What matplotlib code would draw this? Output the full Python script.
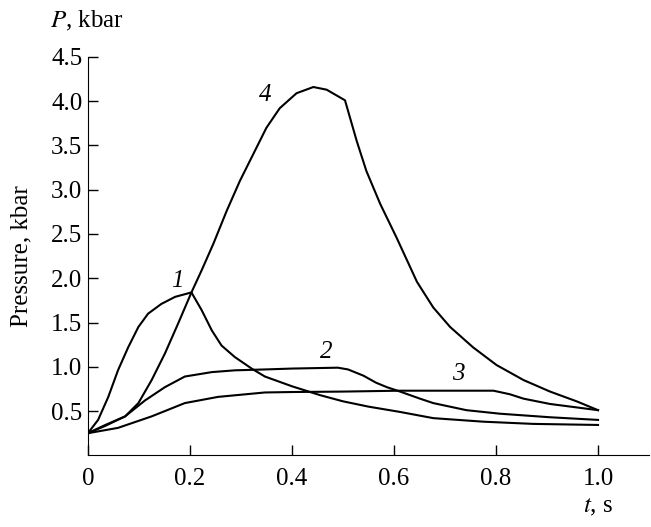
import matplotlib
matplotlib.use("Agg")
import matplotlib.pyplot as plt

plt.rcParams["font.family"] = ["Liberation Serif", "DejaVu Serif"]
plt.rcParams["mathtext.fontset"] = "stix"

# curve 1
t1 = [0, 0.02, 0.04, 0.059, 0.079, 0.099, 0.118, 0.144, 0.171, 0.203,
      0.223, 0.243, 0.262, 0.288, 0.321, 0.347, 0.4, 0.455, 0.5, 0.55,
      0.612, 0.677, 0.775, 0.873, 1.0]
p1 = [0.25, 0.40, 0.66, 0.96, 1.22, 1.45, 1.60, 1.71, 1.79, 1.84,
      1.64, 1.41, 1.24, 1.11, 0.98, 0.89, 0.78, 0.68, 0.61, 0.55,
      0.49, 0.42, 0.38, 0.355, 0.343]

# curve 2
t2 = [0, 0.033, 0.073, 0.112, 0.151, 0.19, 0.243, 0.288, 0.347, 0.4, 0.49,
      0.51, 0.54, 0.565, 0.586, 0.612, 0.651, 0.677, 0.742, 0.808, 0.906, 1.0]
p2 = [0.25, 0.33, 0.44, 0.62, 0.77, 0.89, 0.94, 0.96, 0.97, 0.98, 0.99,
      0.97, 0.90, 0.82, 0.77, 0.72, 0.64, 0.59, 0.51, 0.47, 0.43, 0.40]

# curve 3
t3 = [0, 0.059, 0.125, 0.19, 0.255, 0.347, 0.4, 0.5, 0.612, 0.795, 0.827,
      0.854, 0.906, 1.0]
p3 = [0.25, 0.31, 0.44, 0.59, 0.66, 0.71, 0.715, 0.72, 0.73, 0.73, 0.69,
      0.64, 0.58, 0.51]

# curve 4
t4 = [0, 0.033, 0.073, 0.099, 0.125, 0.151, 0.177, 0.203, 0.223, 0.246,
      0.272, 0.298, 0.324, 0.350, 0.376, 0.409, 0.442, 0.468, 0.504, 0.527,
      0.546, 0.573, 0.605, 0.645, 0.677, 0.71, 0.755, 0.801, 0.854, 0.906,
      0.958, 1.0]
p4 = [0.25, 0.34, 0.44, 0.59, 0.85, 1.15, 1.49, 1.84, 2.09, 2.39,
      2.76, 3.10, 3.40, 3.70, 3.92, 4.09, 4.16, 4.13, 4.01, 3.55,
      3.21, 2.84, 2.46, 1.96, 1.67, 1.45, 1.22, 1.02, 0.85, 0.72,
      0.61, 0.51]

curve_labels = ["1", "2", "3", "4"]
label_pos = [(0.176, 1.97), (0.468, 1.17), (0.726, 0.92), (0.347, 4.07)]

xticks = [0, 0.2, 0.4, 0.6, 0.8, 1.0]
xticklabels = ["0", "0.2", "0.4", "0.6", "0.8", "1.0"]
yticks = [0.5, 1.0, 1.5, 2.0, 2.5, 3.0, 3.5, 4.0, 4.5]

fig = plt.figure(figsize=(6.51, 5.27), dpi=100)
ax = fig.add_axes([0.135, 0.136, 0.862, 0.756])

for t, p in [(t1, p1), (t2, p2), (t3, p3), (t4, p4)]:
    ax.plot(t, p, color="black", lw=1.5, solid_joinstyle="round")

for lab, (x, y) in zip(curve_labels, label_pos):
    ax.text(x, y, lab, fontsize=18, style="italic", ha="center", va="center")

ax.set_xlim(0, 1.1)
ax.set_ylim(0, 4.5)
ax.set_xticks(xticks)
ax.set_xticklabels(xticklabels)
ax.set_yticks(yticks)
ax.set_yticklabels([f"{v:.1f}" for v in yticks])
ax.tick_params(direction="in", length=7, width=1, labelsize=18)
ax.tick_params(axis="x", pad=9)
ax.tick_params(axis="y", pad=4)
ax.spines["top"].set_visible(False)
ax.spines["right"].set_visible(False)

ax.set_ylabel("Pressure, kbar", fontsize=18)
ax.yaxis.set_label_coords(-0.098, 0.5)
fig.text(0.077, 0.96, r"$P$, kbar", fontsize=18, ha="left", va="center")
fig.text(0.918, 0.038, r"$t$, s", fontsize=18, ha="center", va="center")

fig.savefig("out.png", dpi=100)
